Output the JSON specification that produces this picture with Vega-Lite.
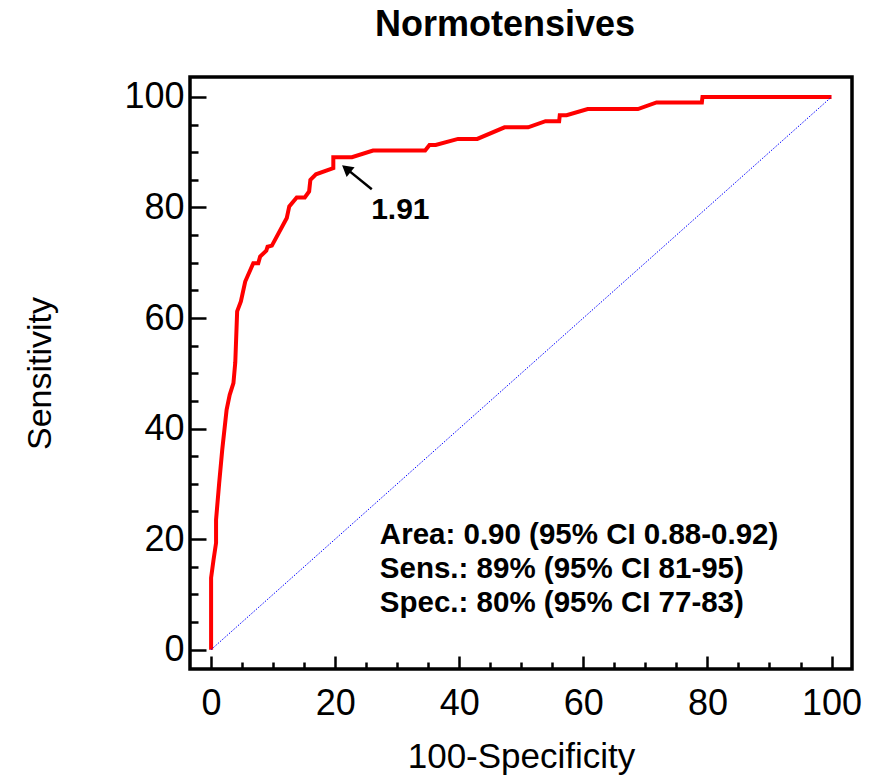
{
  "$schema": "https://vega.github.io/schema/vega-lite/v6.json",
  "width": 662,
  "height": 592,
  "autosize": {"type": "none"},
  "padding": {"left": 190, "top": 77, "right": 25, "bottom": 109},
  "background": "white",
  "config": {
    "view": {"stroke": "black", "strokeWidth": 3.5},
    "font": "Liberation Sans",
    "axis": {"domain": false, "grid": false, "tickColor": "black", "tickWidth": 2.5, "labelColor": "black", "titleColor": "black", "labelFont": "Liberation Sans", "titleFont": "Liberation Sans", "titleFontWeight": "normal"}
  },
  "title": {"text": "Normotensives", "fontSize": 36, "fontWeight": "bold", "font": "Liberation Sans", "color": "black", "anchor": "middle", "dx": -16, "offset": 5, "baseline": "alphabetic"},
  "resolve": {"axis": {"x": "independent", "y": "independent"}},
  "layer": [
    {
      "data": {"values": [
        {"i": 0, "fpr": 0, "sens": 0},
        {"i": 1, "fpr": 0, "sens": 13},
        {"i": 2, "fpr": 0.4, "sens": 16.3},
        {"i": 3, "fpr": 0.8, "sens": 19.3},
        {"i": 4, "fpr": 0.8, "sens": 23.5},
        {"i": 5, "fpr": 1.3, "sens": 30.1},
        {"i": 6, "fpr": 1.8, "sens": 36.2},
        {"i": 7, "fpr": 2.5, "sens": 43.4},
        {"i": 8, "fpr": 3.0, "sens": 46.1},
        {"i": 9, "fpr": 3.6, "sens": 48.2},
        {"i": 10, "fpr": 3.9, "sens": 52},
        {"i": 11, "fpr": 4.2, "sens": 61.2},
        {"i": 12, "fpr": 4.8, "sens": 63.0},
        {"i": 13, "fpr": 5.5, "sens": 66.6},
        {"i": 14, "fpr": 6.8, "sens": 69.9},
        {"i": 15, "fpr": 7.6, "sens": 69.9},
        {"i": 16, "fpr": 7.9, "sens": 71.1},
        {"i": 17, "fpr": 8.9, "sens": 72.2},
        {"i": 18, "fpr": 9.1, "sens": 72.9},
        {"i": 19, "fpr": 9.8, "sens": 73.1},
        {"i": 20, "fpr": 12.2, "sens": 78.1},
        {"i": 21, "fpr": 12.6, "sens": 80.2},
        {"i": 22, "fpr": 13.8, "sens": 81.8},
        {"i": 23, "fpr": 15.1, "sens": 81.8},
        {"i": 24, "fpr": 15.8, "sens": 82.9},
        {"i": 25, "fpr": 16.0, "sens": 85.0},
        {"i": 26, "fpr": 16.9, "sens": 86.0},
        {"i": 27, "fpr": 19.7, "sens": 87.1},
        {"i": 28, "fpr": 19.7, "sens": 89.1},
        {"i": 29, "fpr": 22.7, "sens": 89.1},
        {"i": 30, "fpr": 26.1, "sens": 90.3},
        {"i": 31, "fpr": 34.5, "sens": 90.3},
        {"i": 32, "fpr": 35.2, "sens": 91.3},
        {"i": 33, "fpr": 36.2, "sens": 91.3},
        {"i": 34, "fpr": 39.8, "sens": 92.4},
        {"i": 35, "fpr": 42.9, "sens": 92.4},
        {"i": 36, "fpr": 47.3, "sens": 94.5},
        {"i": 37, "fpr": 51.1, "sens": 94.5},
        {"i": 38, "fpr": 53.9, "sens": 95.6},
        {"i": 39, "fpr": 56.1, "sens": 95.6},
        {"i": 40, "fpr": 56.2, "sens": 96.7},
        {"i": 41, "fpr": 57.3, "sens": 96.7},
        {"i": 42, "fpr": 60.7, "sens": 97.8},
        {"i": 43, "fpr": 68.8, "sens": 97.8},
        {"i": 44, "fpr": 71.8, "sens": 99.0},
        {"i": 45, "fpr": 79.1, "sens": 99.0},
        {"i": 46, "fpr": 79.2, "sens": 100},
        {"i": 47, "fpr": 100, "sens": 100}
      ]},
      "mark": {"type": "line", "color": "#ff0000", "strokeWidth": 4, "strokeJoin": "miter", "clip": false},
      "encoding": {
        "x": {"field": "fpr", "type": "quantitative", "scale": {"domain": [-3.4, 103.3], "nice": false, "zero": false},
          "axis": {"orient": "bottom", "values": [0, 20, 40, 60, 80, 100], "tickSize": -13, "labelFontSize": 36, "labelPadding": 30, "title": "100-Specificity", "titleFontSize": 35, "titlePadding": 18}},
        "y": {"field": "sens", "type": "quantitative", "scale": {"domain": [-3.5, 103.6], "nice": false, "zero": false},
          "axis": {"orient": "left", "values": [0, 20, 40, 60, 80, 100], "tickSize": -16, "labelFontSize": 36, "labelPadding": 22, "title": "Sensitivity", "titleFontSize": 34, "titlePadding": 66}},
        "order": {"field": "i", "type": "quantitative"}
      }
    },
    {
      "data": {"values": [{"fpr": 0, "sens": 0}, {"fpr": 100, "sens": 100}]},
      "mark": {"type": "line", "color": "#0000ff", "strokeWidth": 1, "strokeDash": [1.5, 1.5]},
      "encoding": {
        "x": {"field": "fpr", "type": "quantitative", "scale": {"domain": [-3.4, 103.3], "nice": false, "zero": false},
          "axis": {"orient": "bottom", "values": [5, 10, 15, 25, 30, 35, 45, 50, 55, 65, 70, 75, 85, 90, 95], "tickSize": -7, "labels": false, "title": null}},
        "y": {"field": "sens", "type": "quantitative", "scale": {"domain": [-3.5, 103.6], "nice": false, "zero": false},
          "axis": {"orient": "left", "values": [5, 10, 15, 25, 30, 35, 45, 50, 55, 65, 70, 75, 85, 90, 95], "tickSize": -8, "labels": false, "title": null}}
      }
    },
    {
      "data": {"values": [{"x1": 25.9, "y1": 83.3, "x2": 21.6, "y2": 87.2}]},
      "mark": {"type": "rule", "color": "black", "strokeWidth": 2.5},
      "encoding": {
        "x": {"field": "x1", "type": "quantitative", "axis": null},
        "y": {"field": "y1", "type": "quantitative", "axis": null},
        "x2": {"field": "x2"},
        "y2": {"field": "y2"}
      }
    },
    {
      "data": {"values": [{"x": 21.8, "y": 87.0}]},
      "mark": {"type": "point", "shape": "triangle-up", "filled": true, "color": "black", "size": 160, "angle": 309, "opacity": 1},
      "encoding": {
        "x": {"field": "x", "type": "quantitative", "axis": null},
        "y": {"field": "y", "type": "quantitative", "axis": null}
      }
    },
    {
      "data": {"values": [{"label": "1.91", "x": 25.8, "y": 79.6}]},
      "mark": {"type": "text", "fontSize": 30, "fontWeight": "bold", "align": "left", "baseline": "middle", "color": "black", "font": "Liberation Sans"},
      "encoding": {
        "x": {"field": "x", "type": "quantitative", "axis": null},
        "y": {"field": "y", "type": "quantitative", "axis": null},
        "text": {"field": "label"}
      }
    },
    {
      "data": {"values": [
        {"line": "Area: 0.90 (95% CI 0.88-0.92)", "k": 0},
        {"line": "Sens.: 89% (95% CI 81-95)", "k": 1},
        {"line": "Spec.: 80% (95% CI 77-83)", "k": 2}
      ]},
      "transform": [{"aggregate": [{"op": "values", "field": "line", "as": "vals"}]}, {"calculate": "pluck(datum.vals, 'line')", "as": "lines"}],
      "mark": {"type": "text", "fontSize": 29.5, "fontWeight": "bold", "align": "left", "baseline": "middle", "lineHeight": 34, "color": "black", "font": "Liberation Sans"},
      "encoding": {
        "x": {"datum": 27.2, "type": "quantitative", "axis": null},
        "y": {"datum": 20.8, "type": "quantitative", "axis": null},
        "text": {"field": "lines"}
      }
    }
  ]
}
